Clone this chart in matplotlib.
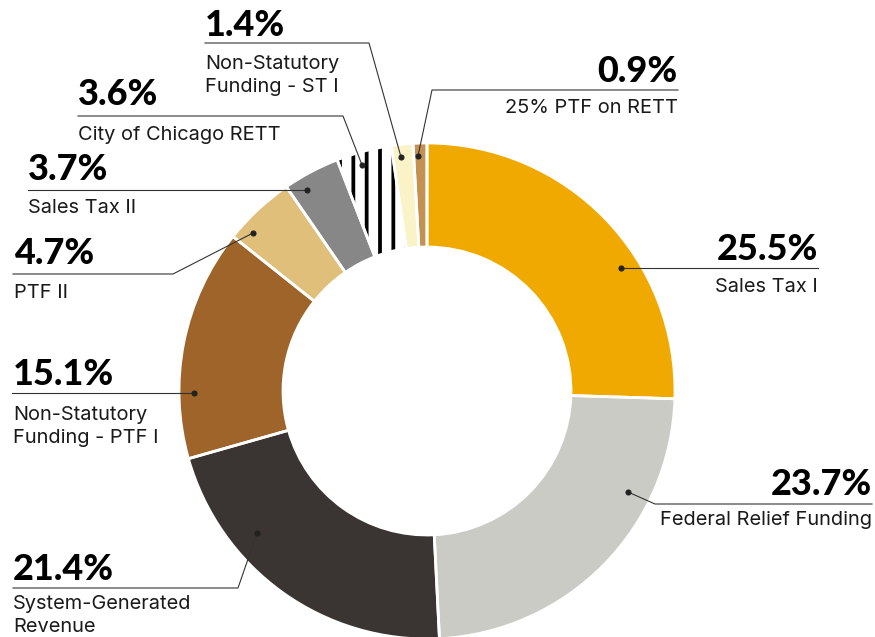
import matplotlib.pyplot as plt

# Data
names = ['Sales Tax I', 'Federal Relief Funding', 'System-Generated\nRevenue',
         'Non-Statutory\nFunding - PTF I', 'PTF II', 'Sales Tax II',
         'City of Chicago RETT', 'Non-Statutory\nFunding - ST I', '25% PTF on RETT']
shares = [25.5, 23.7, 21.4, 15.1, 4.7, 3.7, 3.6, 1.4, 0.9]
colors = ['#F0A900', '#CBCBC6', '#3A3532', '#9E6429', '#E0BF7B', '#878787',
          'white', '#FBF3C8', '#C39152']

W, H = 875, 637
DPI = 80
plt.rcParams['hatch.linewidth'] = 3.4

fig = plt.figure(figsize=(W / DPI, H / DPI), dpi=DPI)
ax = fig.add_axes([0, 0, 1, 1])

cx, cy, R = 427, 391, 248

# donut fill
wedges, _ = ax.pie(shares, colors=colors, startangle=90, counterclock=False,
                   radius=R, center=(cx, H - cy),
                   wedgeprops=dict(width=104, linewidth=0))
wedges[6].set_hatch('|')
wedges[6].set_edgecolor('black')
# white separators on top
ax.pie(shares, colors=['none'] * len(shares), startangle=90, counterclock=False,
       radius=R, center=(cx, H - cy),
       wedgeprops=dict(width=104, edgecolor='white', linewidth=2.5))

ax.set_xlim(0, W)
ax.set_ylim(0, H)
ax.set_aspect('equal')
ax.axis('off')

def px(v):
    return v * 72 / DPI

pct_font = dict(family='Lato', weight='black', size=px(36), color='black')
lab_font = dict(family='Inter', size=px(20), color='#1a1a1a')

# label layout: (text x, align, pct baseline, label baseline, line path -> dot)
layout = [
    (818, 'right', 260, 292, [(818, 268), (621, 268)]),
    (872, 'right', 495, 525, [(872, 504), (655, 504), (628, 492)]),
    (13, 'left', 580, 609, [(13, 588), (238, 588), (257, 533)]),
    (13, 'left', 385, 420, [(12, 393), (194, 393)]),
    (14, 'left', 264, 298, [(13, 274), (173, 274), (253, 233)]),
    (28, 'left', 180, 213, [(28, 190), (307, 190)]),
    (78, 'left', 105, 140, [(78, 116), (343, 116), (362, 165)]),
    (205, 'left', 36, 69, [(205, 43), (369, 43), (401, 157)]),
    (678, 'right', 82, 113, [(678, 90), (432, 90), (418, 156)]),
]

for name, v, (tx, ha, pb, lb, path) in zip(names, shares, layout):
    ax.text(tx, H - pb, f'{v}%', ha=ha, va='baseline', **pct_font)
    for i, line in enumerate(name.split('\n')):
        ax.text(tx, H - lb - 23 * i, line, ha=ha, va='baseline', **lab_font)
    xs = [p[0] for p in path]
    ys = [H - p[1] for p in path]
    ax.plot(xs, ys, color='#333333', lw=1.0, solid_joinstyle='miter')
    ax.plot(xs[-1], ys[-1], 'o', color='#222222', ms=4.5)

fig.savefig('out.png', dpi=DPI)
